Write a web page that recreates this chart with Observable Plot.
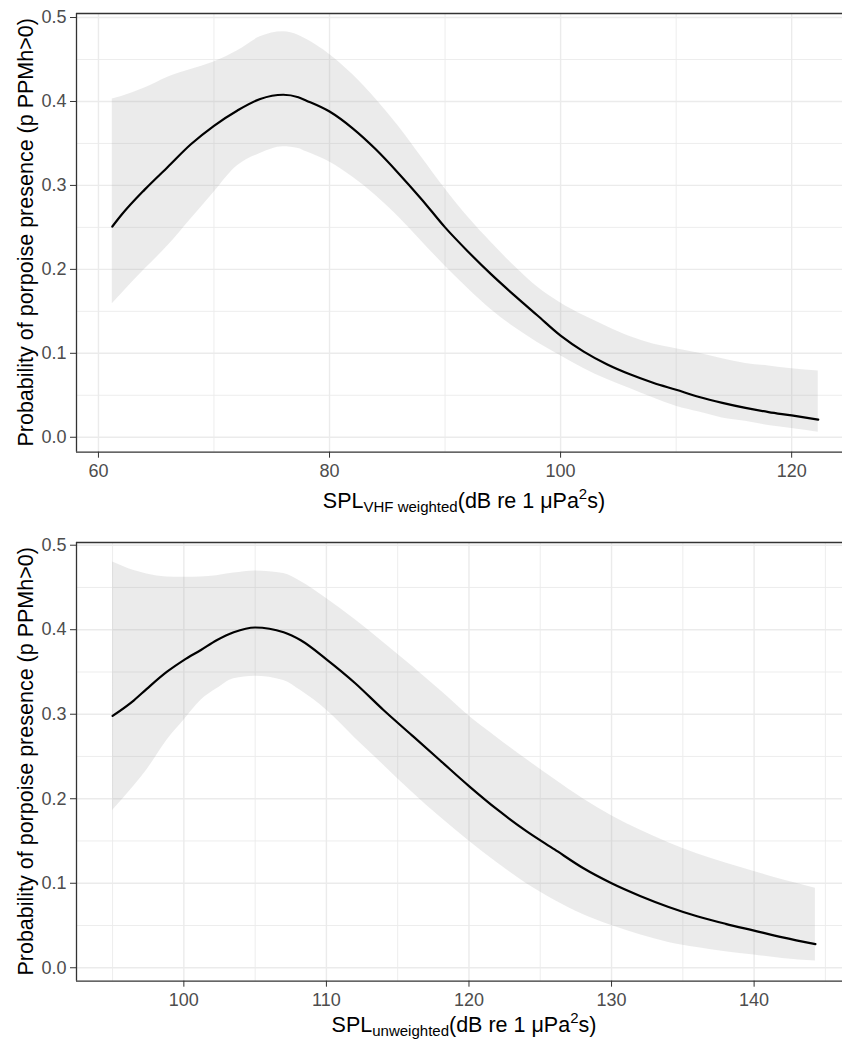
<!DOCTYPE html>
<html>
<head>
<meta charset="utf-8">
<script src="https://cdn.jsdelivr.net/npm/d3@7"></script>
<script src="https://cdn.jsdelivr.net/npm/@observablehq/plot@0.6"></script>
<style>
  html, body { margin: 0; padding: 0; background: #ffffff; }
  svg { display: block; }
</style>
</head>
<body>
<div id="chart"></div>
<script>
// ---- Panel 1: SPL VHF weighted ----
const vhfX     = [61.2, 62, 64, 66, 68, 70, 72, 74, 76, 77.3, 78, 80, 82, 84, 86, 88, 90, 92, 94, 96, 98, 100, 102, 104, 106, 108, 110, 112, 114, 116, 118, 120, 122.3];
const vhfFit   = [0.251, 0.265, 0.295, 0.322, 0.349, 0.371, 0.389, 0.403, 0.408, 0.405, 0.401, 0.388, 0.368, 0.343, 0.314, 0.283, 0.250, 0.221, 0.194, 0.169, 0.145, 0.121, 0.102, 0.087, 0.075, 0.065, 0.0566, 0.048, 0.041, 0.035, 0.030, 0.026, 0.021];
const vhfUpper = [0.403, 0.406, 0.416, 0.429, 0.438, 0.447, 0.460, 0.477, 0.483, 0.479, 0.474, 0.456, 0.432, 0.403, 0.370, 0.333, 0.296, 0.262, 0.232, 0.204, 0.179, 0.160, 0.145, 0.132, 0.120, 0.111, 0.1055, 0.100, 0.0935, 0.088, 0.085, 0.0815, 0.0788];
const vhfLower = [0.159, 0.171, 0.200, 0.228, 0.260, 0.292, 0.323, 0.338, 0.346, 0.344, 0.340, 0.328, 0.310, 0.288, 0.262, 0.233, 0.204, 0.177, 0.152, 0.131, 0.113, 0.097, 0.082, 0.069, 0.058, 0.047, 0.037, 0.030, 0.023, 0.019, 0.014, 0.0105, 0.006];
const vhfTicks = [60, 80, 100, 120];
const vhfMinor = [70, 90, 110];

// ---- Panel 2: SPL unweighted ----
const unwX     = [95, 96.5, 97.4, 98.8, 100, 101.2, 102.3, 103.5, 105, 107, 108.2, 110, 112, 114, 116, 118, 120, 122, 124, 126, 128, 130, 132, 134, 136, 138, 140, 142, 144.3];
const unwFit   = [0.298, 0.3165, 0.330, 0.350, 0.364, 0.376, 0.3875, 0.397, 0.4026, 0.397, 0.3875, 0.365, 0.337, 0.305, 0.275, 0.245, 0.215, 0.187, 0.162, 0.140, 0.118, 0.100, 0.085, 0.072, 0.061, 0.052, 0.044, 0.036, 0.028];
const unwUpper = [0.480, 0.470, 0.466, 0.4625, 0.462, 0.4625, 0.464, 0.467, 0.4696, 0.4665, 0.457, 0.437, 0.412, 0.385, 0.357, 0.328, 0.298, 0.272, 0.247, 0.223, 0.200, 0.180, 0.163, 0.148, 0.135, 0.124, 0.114, 0.104, 0.094];
const unwLower = [0.186, 0.215, 0.234, 0.269, 0.293, 0.3165, 0.330, 0.342, 0.345, 0.340, 0.328, 0.305, 0.272, 0.240, 0.208, 0.178, 0.150, 0.124, 0.100, 0.080, 0.063, 0.050, 0.039, 0.030, 0.024, 0.019, 0.015, 0.011, 0.008];
const unwTicks = [100, 110, 120, 130, 140];
const unwMinor = [95, 105, 115, 125, 135, 145];

// ---- Shared y axis ----
const yTicks = [0, 0.1, 0.2, 0.3, 0.4, 0.5];
const yMinor = [0.05, 0.15, 0.25, 0.35, 0.45];
const yTitle = "Probability of porpoise presence (p PPMh>0)";

const FONT = "'Liberation Sans', Arial, Helvetica, sans-serif";

function panel({xs, fit, lo, hi, xDomain, yDomain, xTicks, xMinor, height, marginBottom, sub, titleY}) {
  const data = xs.map((x, i) => ({x, fit: fit[i], lo: lo[i], hi: hi[i]}));
  const grid = "#ebebeb";
  const border = "#333333";
  const svg = Plot.plot({
    width: 842,
    height,
    marginLeft: 76,
    marginRight: 0,
    marginTop: 13,
    marginBottom,
    style: {fontFamily: FONT, background: "#ffffff", overflow: "visible"},
    x: {domain: xDomain},
    y: {domain: yDomain},
    marks: [
      Plot.ruleX(xMinor, {stroke: grid, strokeWidth: 0.9}),
      Plot.ruleY(yMinor, {stroke: grid, strokeWidth: 0.9}),
      Plot.ruleX(xTicks, {stroke: grid, strokeWidth: 1.4}),
      Plot.ruleY(yTicks, {stroke: grid, strokeWidth: 1.4}),
      Plot.areaY(data, {x: "x", y1: "lo", y2: "hi", fill: "#999999", fillOpacity: 0.2, curve: "monotone-x"}),
      Plot.line(data, {x: "x", y: "fit", stroke: "#000000", strokeWidth: 2.2, curve: "monotone-x"}),
      Plot.ruleY([yDomain[0]], {stroke: border, strokeWidth: 1.3}),
      Plot.ruleY([yDomain[1]], {stroke: border, strokeWidth: 1.3}),
      Plot.ruleX([xDomain[0]], {stroke: border, strokeWidth: 1.3}),
      Plot.axisX({ticks: xTicks, tickSize: 6, tickPadding: 6, fontSize: 18, label: null,
                  stroke: border, fill: "#4d4d4d", tickFormat: d3.format("d")}),
      Plot.axisY({ticks: yTicks, tickSize: 6, tickPadding: 4, fontSize: 18, label: null,
                  stroke: border, fill: "#4d4d4d", tickFormat: d3.format(".1f")})
    ]
  });
  const s = d3.select(svg);
  const panelTop = 13, panelBottom = height - marginBottom;
  // y title
  s.append("text")
    .attr("transform", `translate(33,${(panelTop + panelBottom) / 2}) rotate(-90)`)
    .attr("text-anchor", "middle")
    .attr("font-family", FONT)
    .attr("font-size", 21.5)
    .attr("fill", "#000")
    .text(yTitle);
  // x title with subscript / superscript
  const t = s.append("text")
    .attr("x", 464)
    .attr("y", titleY)
    .attr("text-anchor", "middle")
    .attr("font-family", FONT)
    .attr("font-size", 21.5)
    .attr("fill", "#000");
  t.append("tspan").text("SPL");
  t.append("tspan").attr("font-size", 15).attr("dy", 4).text(sub);
  t.append("tspan").attr("dy", -4).text("(dB re 1 \u03BCPa");
  t.append("tspan").attr("font-size", 15).attr("dy", -9).text("2");
  t.append("tspan").attr("dy", 9).text("s)");
  return svg;
}

const chart = document.getElementById("chart");
chart.appendChild(panel({
  xs: vhfX, fit: vhfFit, lo: vhfLower, hi: vhfUpper,
  xDomain: [58.1, 124.4], yDomain: [-0.0178, 0.5048],
  xTicks: vhfTicks, xMinor: vhfMinor,
  height: 529, marginBottom: 77.3, sub: "VHF weighted", titleY: 508
}));
chart.appendChild(panel({
  xs: unwX, fit: unwFit, lo: unwLower, hi: unwUpper,
  xDomain: [92.47, 146.2], yDomain: [-0.0159, 0.5032],
  xTicks: unwTicks, xMinor: unwMinor,
  height: 517, marginBottom: 65.3, sub: "unweighted", titleY: 503
}));
</script>
</body>
</html>
